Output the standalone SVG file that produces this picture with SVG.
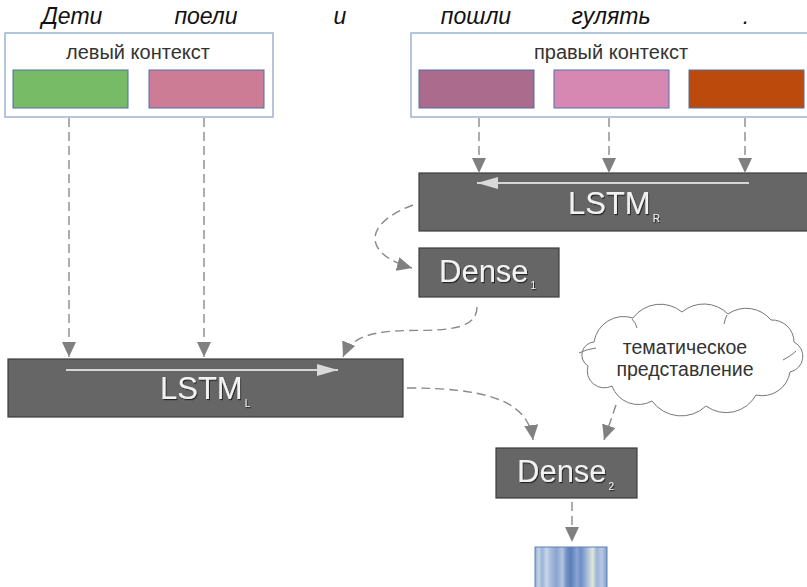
<svg xmlns="http://www.w3.org/2000/svg" width="807" height="587" viewBox="0 0 807 587">
<defs>
<style>
.word{font-family:"Liberation Sans",Arial,sans-serif;font-style:italic;font-size:23px;fill:#111;text-anchor:middle}
.lbl{font-family:"Liberation Sans",Arial,sans-serif;font-size:20px;fill:#333;text-anchor:middle}
.cl{font-family:"Liberation Sans",Arial,sans-serif;font-size:19.5px;fill:#333;text-anchor:middle}
.ctx{fill:#fff;stroke:#9fb3d3;stroke-width:1.5}
.cell{stroke:#4f6fa8;stroke-width:1}
.blk{fill:#666;stroke:#3d3d3d;stroke-width:1.2}
.bt{font-family:"Liberation Sans",Arial,sans-serif;font-size:31px;fill:#f2f2f2;filter:url(#sh)}
.sub{font-size:10px}
.con{fill:none;stroke:#8a8a8a;stroke-width:1.4;stroke-dasharray:9 5;marker-end:url(#ah)}
.inner{stroke:#d6d6d6;stroke-width:2;fill:none}
.cloud{fill:#fff;stroke:#777;stroke-width:1}
</style>
<filter id="sh" x="-10%" y="-10%" width="130%" height="140%">
<feDropShadow dx="1" dy="1.2" stdDeviation="0.4" flood-color="#1a1a1a" flood-opacity="0.9"/>
</filter>
<marker id="ah" markerWidth="16" markerHeight="14" refX="15" refY="7" orient="auto" markerUnits="userSpaceOnUse">
<path d="M0,0 L15,7 L0,14 Z" fill="#808080"/>
</marker>
<marker id="wh" markerWidth="22" markerHeight="14" refX="21" refY="7" orient="auto" markerUnits="userSpaceOnUse">
<path d="M0,1 L21,7 L0,13 Z" fill="#d9d9d9"/>
</marker>
<linearGradient id="bar" x1="0" y1="0" x2="1" y2="0">
<stop offset="0" stop-color="#8ea9d2"/>
<stop offset="0.05" stop-color="#c5d3e8"/>
<stop offset="0.1" stop-color="#9bb3d8"/>
<stop offset="0.16" stop-color="#c9d6ea"/>
<stop offset="0.22" stop-color="#a6bbdc"/>
<stop offset="0.3" stop-color="#8aa5d0"/>
<stop offset="0.38" stop-color="#b2c4e0"/>
<stop offset="0.44" stop-color="#6f8fc4"/>
<stop offset="0.5" stop-color="#5a7fbb"/>
<stop offset="0.58" stop-color="#8aa5d0"/>
<stop offset="0.64" stop-color="#6d8ec4"/>
<stop offset="0.72" stop-color="#a3b9dc"/>
<stop offset="0.8" stop-color="#dfe6d8"/>
<stop offset="0.86" stop-color="#9cb3d8"/>
<stop offset="0.93" stop-color="#b8c9e3"/>
<stop offset="1" stop-color="#7e9bcb"/>
</linearGradient>
</defs>
<rect width="807" height="587" fill="#fff"/>

<g id="words">
<text class="word" x="72" y="24">Дети</text>
<text class="word" x="206" y="24">поели</text>
<text class="word" x="340" y="24">и</text>
<text class="word" x="476" y="24">пошли</text>
<text class="word" x="611" y="24">гулять</text>
<text class="word" x="746" y="24">.</text>
</g>

<g id="left-context">
<rect class="ctx" x="5" y="33" width="268" height="84"/>
<text class="lbl" x="138" y="59">левый контекст</text>
<rect class="cell" x="13" y="70" width="115" height="38" fill="#77bb66"/>
<rect class="cell" x="149" y="70" width="115" height="38" fill="#cc7c94"/>
</g>

<g id="right-context">
<rect class="ctx" x="411" y="33" width="410" height="84"/>
<text class="lbl" x="611" y="59">правый контекст</text>
<rect class="cell" x="419" y="70" width="115" height="38" fill="#ab6b8d"/>
<rect class="cell" x="554" y="70" width="115" height="38" fill="#d688b3"/>
<rect class="cell" x="689" y="70" width="115" height="38" fill="#bc4a0d"/>
</g>

<g id="lstm-r">
<rect class="blk" x="419" y="173" width="400" height="58"/>
<line class="inner" x1="749" y1="183" x2="477" y2="183" marker-end="url(#wh)"/>
<text class="bt" x="568" y="214">LSTM<tspan class="sub" dx="2" dy="8">R</tspan></text>
</g>

<g id="dense1">
<rect class="blk" x="419" y="248" width="140" height="49"/>
<text class="bt" x="439" y="282">Dense<tspan class="sub" dx="2" dy="7">1</tspan></text>
</g>

<g id="lstm-l">
<rect class="blk" x="8" y="359" width="395" height="58"/>
<line class="inner" x1="66" y1="370" x2="338" y2="370" marker-end="url(#wh)"/>
<text class="bt" x="160" y="399">LSTM<tspan class="sub" dx="2" dy="8">L</tspan></text>
</g>

<g id="cloud">
<path class="cloud" d="M594,342 A30,30 0 0 1 633,318 A34,34 0 0 1 682,312 A34,34 0 0 1 728,314 A32,32 0 0 1 771,320 A22,22 0 0 1 794,342 A16,16 0 0 1 790,372 A28,28 0 0 1 756,395 A34,34 0 0 1 706,406 A36,36 0 0 1 652,401 A28,28 0 0 1 612,386 A17,17 0 0 1 588,366 A13,13 0 0 1 594,342 Z"/>
<path d="M579,353 Q587,349 596,348 M783,360 Q791,356 796,351 M632,319 Q636,323 637,328 M727,315 Q725,319 724,324" fill="none" stroke="#777" stroke-width="1"/>
<text class="cl" x="685" y="354">тематическое</text>
<text class="cl" x="685" y="376">представление</text>
</g>

<g id="dense2">
<rect class="blk" x="496" y="448" width="141" height="50"/>
<text class="bt" x="517" y="482">Dense<tspan class="sub" dx="2" dy="8">2</tspan></text>
</g>

<g id="output">
<rect x="535" y="547" width="72" height="45" fill="url(#bar)" stroke="#5f80b8" stroke-width="1"/>
</g>

<g id="connectors">
<path class="con" d="M69,118 L69,357"/>
<path class="con" d="M204,118 L204,357"/>
<path class="con" d="M479,118 L479,173"/>
<path class="con" d="M609,118 L609,173"/>
<path class="con" d="M745,118 L745,173"/>
<path class="con" d="M413,205 C360,225 365,255 412,268"/>
<path class="con" d="M477,307 C477,335 430,329 395,331 C365,333 350,340 343,357"/>
<path class="con" d="M407,388 C480,388 528,398 533,440"/>
<path class="con" d="M616,405 L604,440"/>
<path class="con" d="M572,502 L572,542"/>
</g>
</svg>
